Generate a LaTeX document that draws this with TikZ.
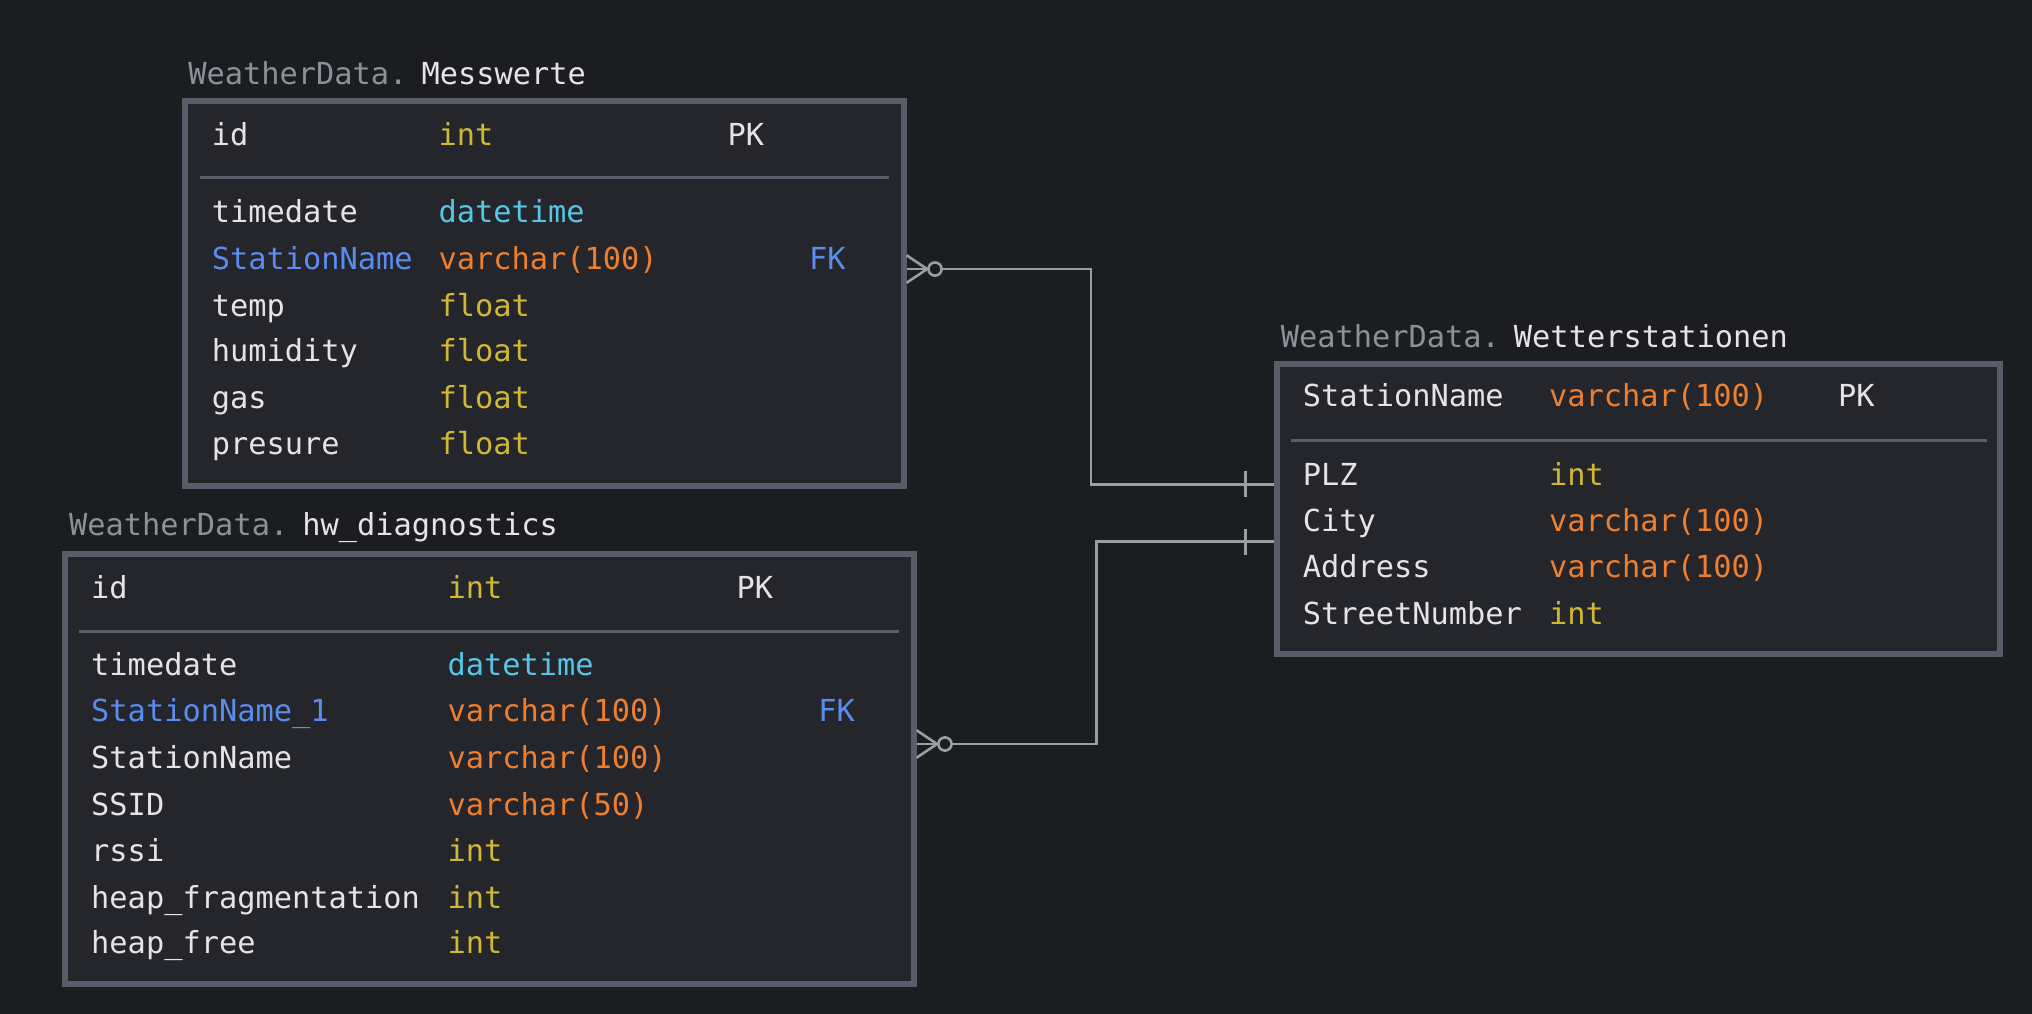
\documentclass[tikz,border=0pt]{standalone}
\usepackage{fontspec}
\newfontfamily\erfont{DejaVu Sans Mono}
\usetikzlibrary{calc,fit}
\definecolor{bg}{HTML}{1C1D21}
\definecolor{boxfill}{HTML}{25262C}
\definecolor{bord}{HTML}{5A5C69}
\definecolor{fg}{HTML}{E4E4E6}
\definecolor{dim}{HTML}{8E9099}
\definecolor{tint}{HTML}{D0B835}
\definecolor{tdate}{HTML}{56C6E4}
\definecolor{tvar}{HTML}{EE7F2E}
\definecolor{tfk}{HTML}{5B8CF0}
\definecolor{relc}{HTML}{9B9CA4}
\tikzset{
  tbl/.style={draw=bord, fill=boxfill, line width=2.31pt, inner sep=0pt},
  sepline/.style={draw=bord, line width=1.1pt},
  t/.style={font=\erfont\fontsize{11.7}{14}\selectfont, inner sep=0pt, anchor=base west},
  nm/.style={t, text=fg},
  ttl/.style={t, text=dim},
  ti/.style={t, text=tint},
  td/.style={t, text=tdate},
  tv/.style={t, text=tvar},
  fk/.style={t, text=tfk},
  rel/.style={draw=relc, line width=1pt},
  circ/.style={circle, draw=relc, line width=1pt, minimum size=5.1pt, inner sep=0pt}
}
\begin{document}
\begin{tikzpicture}[x=0.5pt,y=-0.5pt]
\useasboundingbox (0,0) rectangle (1568,782);
\fill[bg] (-10,-10) rectangle (1578,792);

% ---------- Messwerte ----------
\node[ttl] (mtw) at (145,65) {WeatherData.};
\node[nm] (mtn) at ([xshift=5pt]mtw.base east) {Messwerte};
\node[tbl, fit={(142.7,78.2) (697.3,375.3)}] (mess) {};
\draw[sepline] (154,137) -- (686,137);
\node[nm] (m1n) at (163,112) {id};
\node[ti] (m1t) at (338,112) {int};
\node[nm] (m1k) at (561,112) {PK};
\node[nm] (m2n) at (163,172) {timedate};
\node[td] (m2t) at (338,172) {datetime};
\node[fk] (m3n) at (163,208) {StationName};
\node[tv] (m3t) at (338,208) {varchar(100)};
\node[fk] (m3k) at (624,208) {FK};
\node[nm] (m4n) at (163,244) {temp};
\node[ti] (m4t) at (338,244) {float};
\node[nm] (m5n) at (163,279) {humidity};
\node[ti] (m5t) at (338,279) {float};
\node[nm] (m6n) at (163,315) {gas};
\node[ti] (m6t) at (338,315) {float};
\node[nm] (m7n) at (163,351) {presure};
\node[ti] (m7t) at (338,351) {float};

% ---------- hw_diagnostics ----------
\node[ttl] (htw) at (53,413) {WeatherData.};
\node[nm] (htn) at ([xshift=5pt]htw.base east) {hw\_diagnostics};
\node[tbl, fit={(50.1,427.7) (705,759.6)}] (hw) {};
\draw[sepline] (61,487) -- (694,487);
\node[nm] (h1n) at (70,462) {id};
\node[ti] (h1t) at (345,462) {int};
\node[nm] (h1k) at (568,462) {PK};
\node[nm] (h2n) at (70,521) {timedate};
\node[td] (h2t) at (345,521) {datetime};
\node[fk] (h3n) at (70,557) {StationName\_1};
\node[tv] (h3t) at (345,557) {varchar(100)};
\node[fk] (h3k) at (631,557) {FK};
\node[nm] (h4n) at (70,593) {StationName};
\node[tv] (h4t) at (345,593) {varchar(100)};
\node[nm] (h5n) at (70,629) {SSID};
\node[tv] (h5t) at (345,629) {varchar(50)};
\node[nm] (h6n) at (70,665) {rssi};
\node[ti] (h6t) at (345,665) {int};
\node[nm] (h7n) at (70,701) {heap\_fragmentation};
\node[ti] (h7t) at (345,701) {int};
\node[nm] (h8n) at (70,736) {heap\_free};
\node[ti] (h8t) at (345,736) {int};

% ---------- Wetterstationen ----------
\node[ttl] (wtw) at (988,268) {WeatherData.};
\node[nm] (wtn) at ([xshift=5pt]wtw.base east) {Wetterstationen};
\node[tbl, fit={(985.6,280.6) (1543.5,504.9)}] (wst) {};
\draw[sepline] (996,340) -- (1533,340);
\node[nm] (w1n) at (1005,314) {StationName};
\node[tv] (w1t) at (1195,314) {varchar(100)};
\node[nm] (w1k) at (1418,314) {PK};
\node[nm] (w2n) at (1005,375) {PLZ};
\node[ti] (w2t) at (1195,375) {int};
\node[nm] (w3n) at (1005,410) {City};
\node[tv] (w3t) at (1195,410) {varchar(100)};
\node[nm] (w4n) at (1005,446) {Address};
\node[tv] (w4t) at (1195,446) {varchar(100)};
\node[nm] (w5n) at (1005,482) {StreetNumber};
\node[ti] (w5t) at (1195,482) {int};

% ---------- relation 1 ----------
\coordinate (a1) at (699.6,207.6);
\node[circ] (o1) at (721.5,207.6) {};
\coordinate (k1) at (842,290);
\coordinate (b1) at (983.3,373.7);
\draw[rel] (o1) -| (k1) |- (b1);
\draw[rel] (a1) -- (o1.west);
\draw[rel] ($(a1)+(0,-10.6)$) -- (o1.west);
\draw[rel] ($(a1)+(0,10.6)$) -- (o1.west);
\draw[rel] ($(b1)+(-22,-10)$) -- ($(b1)+(-22,10)$);

% ---------- relation 2 ----------
\coordinate (a2) at (707.3,574.1);
\node[circ] (o2) at (729.2,574.1) {};
\coordinate (k2) at (846,500);
\coordinate (b2) at (983.3,418);
\draw[rel] (o2) -| (k2) |- (b2);
\draw[rel] (a2) -- (o2.west);
\draw[rel] ($(a2)+(0,-10.6)$) -- (o2.west);
\draw[rel] ($(a2)+(0,10.6)$) -- (o2.west);
\draw[rel] ($(b2)+(-22,-10)$) -- ($(b2)+(-22,10)$);
\end{tikzpicture}
\end{document}
